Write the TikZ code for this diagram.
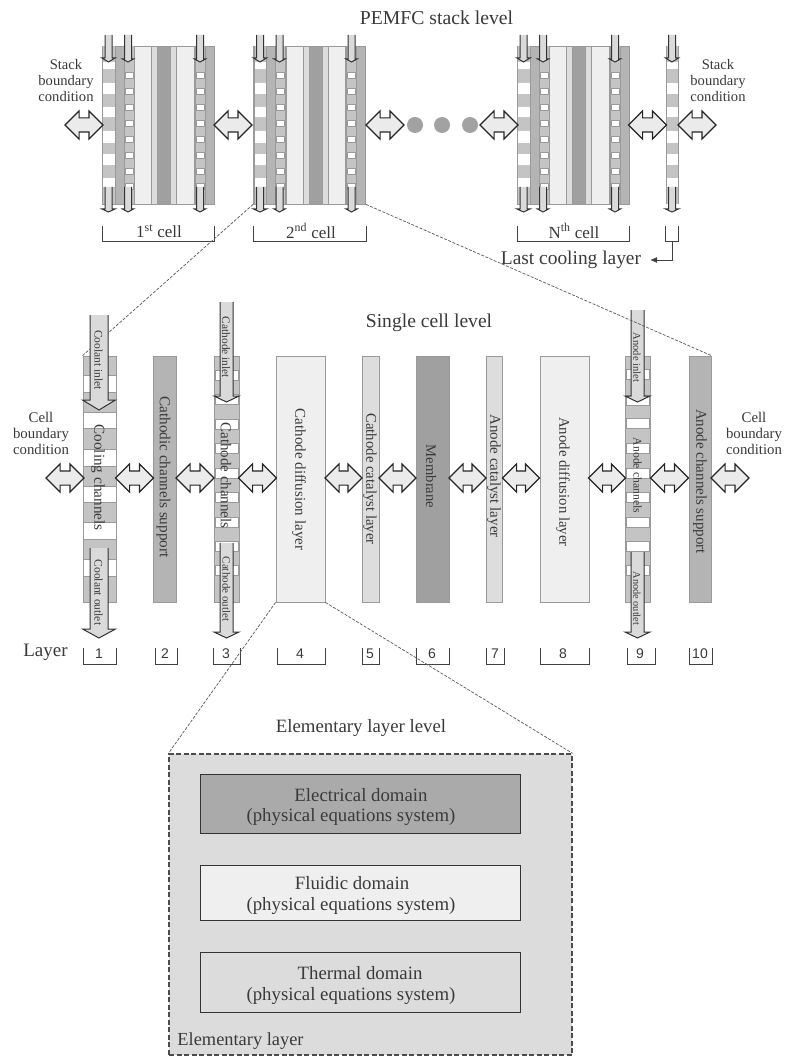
\documentclass[tikz,border=0pt]{standalone}
\usepackage{fontspec}
\setmainfont{Liberation Serif}
\setsansfont{Liberation Sans}
\usetikzlibrary{shapes.arrows,arrows.meta}
\definecolor{ink}{HTML}{3A3A3A}
\definecolor{edgeg}{HTML}{9A9A9A}
\definecolor{supp}{HTML}{B4B4B4}
\definecolor{coolg}{HTML}{C4C4C4}
\definecolor{memb}{HTML}{A0A0A0}
\definecolor{diffg}{HTML}{EFEFEF}
\definecolor{catg}{HTML}{DDDDDD}
\definecolor{flowg}{HTML}{DADADA}
\definecolor{elemg}{HTML}{DCDCDC}
\definecolor{elecg}{HTML}{AAAAAA}
\definecolor{arrg}{HTML}{EBEBEB}
\tikzset{
  txt/.style={inner sep=0pt,text=ink,font=\fontsize{#1}{16}\selectfont,align=center},
  vtxt/.style={inner sep=0pt,text=ink,rotate=-90,font=\fontsize{#1}{16}\selectfont},
  lay/.style={draw=edgeg,line width=0.8pt,inner sep=0pt},
  dbl/.style={double arrow,draw=black!85,line width=1.1pt,fill=arrg,inner xsep=0pt,inner ysep=6.5pt,
     double arrow head extend=7pt},
  guide/.style={draw=black!65,line width=0.7pt,dash pattern=on 3pt off 1.5pt},
  brk/.style={draw=black!75,line width=1pt},
  dombox/.style={draw=black!80,line width=1pt,inner sep=0pt,minimum width=320pt},
  flowline/.style={draw=black!80,line width=1pt,line join=miter}
}
% rectangle node by edges: name, x0, x1, y0, y1, fill
\newcommand{\boxat}[6]{%
  \pgfmathsetmacro{\bw}{#3-#2}\pgfmathsetmacro{\bh}{#5-#4}%
  \pgfmathsetmacro{\bx}{(#2+#3)/2}\pgfmathsetmacro{\by}{(#4+#5)/2}%
  \node[lay,fill=#6,minimum width=\bw pt,minimum height=\bh pt] (#1) at (\bx,\by) {};}
% flow arrow: x, top, wing y, tip, half shaft, half head
\newcommand{\flowar}[6]{%
  \fill[flowg] (#1-#5,#2)--(#1-#5,#3)--(#1-#6,#3)--(#1,#4)--(#1+#6,#3)--(#1+#5,#3)--(#1+#5,#2)--cycle;
  \draw[flowline] (#1-#5,#2)--(#1-#5,#3)--(#1-#6,#3)--(#1,#4)--(#1+#6,#3)--(#1+#5,#3)--(#1+#5,#2);}
\newcommand{\brkt}[4]{\draw[brk] (#1,#3)--(#1,#4)--(#2,#4)--(#2,#3);}
\newcommand{\coolstrip}{%
  \fill[coolg] (102.5,46)rectangle(115,204);
  \foreach \a/\b in {62/69,83/94,107/117,131/143,154/165,178/187}{\fill[white] (102.5,\a) rectangle (115,\b);}
  \draw[edgeg,line width=.5pt] (102.5,46)--(102.5,204) (115,46)--(115,204);}
\newcommand{\holes}[3]{%
  \fill[coolg] (#1,46)rectangle(#3,204);
  \foreach \a in {72,88,104,120,136,152,168,183}{\fill[white,draw=edgeg,line width=.4pt] (#2,\a) rectangle ++(8,6);}
  \draw[edgeg,line width=.5pt] (#1,46)--(#1,204) (#3,46)--(#3,204);}
\begin{document}
\begin{tikzpicture}[x=1pt,y=-1pt]
\useasboundingbox (0,0) rectangle (784,1059);
\fill[white] (0,0) rectangle (784,1059);

% ---- stack level
\node[txt=19.7] (title1) at (436.5,18) {PEMFC stack level};
\foreach \off/\nm in {0/cellA,151.5/cellB,415/cellN}{
\begin{scope}[xshift=\off pt]
  \node[lay,fill=supp,minimum width=112pt,minimum height=158pt] (\nm) at (158,125) {};
  \coolstrip
  \holes{124}{125}{134}
  \holes{195}{196}{205}
  \fill[diffg,draw=edgeg,line width=.4pt] (134.5,46) rectangle (151.5,204);
  \fill[catg,draw=edgeg,line width=.4pt] (151.5,46) rectangle (157.5,204);
  \fill[memb,draw=edgeg,line width=.4pt] (157.5,46) rectangle (170.5,204);
  \fill[catg,draw=edgeg,line width=.4pt] (170.5,46) rectangle (176.5,204);
  \fill[diffg,draw=edgeg,line width=.4pt] (176.5,46) rectangle (194,204);
  \flowar{108.5}{35}{58}{62}{3.5}{6.5}
  \flowar{128}{35}{59}{62}{3.5}{5.5}
  \flowar{200}{35}{59}{62}{3.5}{5.5}
  \flowar{108.5}{187}{209}{212}{3.5}{6.5}
  \flowar{128}{187}{209}{212}{3.5}{5.5}
  \flowar{200}{187}{209}{212}{3.5}{5.5}
\end{scope}}
\begin{scope}[xshift=563.5pt]
  \coolstrip
  \flowar{108.5}{35}{58}{62}{3.5}{6.5}
  \flowar{108.5}{187}{209}{212}{3.5}{6.5}
\end{scope}
\node[dbl,minimum height=38pt] (sa0) at (84,125) {};
\node[dbl,minimum height=38pt] (sa1) at (233,125) {};
\node[dbl,minimum height=38pt] (sa2) at (385,125) {};
\foreach \x/\n in {415/d1,442/d2,470/d3}{\node[circle,fill=supp!90!black,inner sep=0pt,minimum size=16pt] (\n) at (\x,125) {};}
\node[dbl,minimum height=38pt] (sa3) at (499,125) {};
\node[dbl,minimum height=38pt] (sa4) at (647.5,125) {};
\node[dbl,minimum height=38pt] (sa5) at (697,125) {};
\node[txt=14.6] (sbl) at (66,80.5) {Stack\\boundary\\condition};
\node[txt=14.6] (sbr) at (718,80.5) {Stack\\boundary\\condition};
\brkt{102}{214}{226}{242}
\brkt{253.5}{366}{226}{242}
\brkt{517}{629}{226}{242}
\brkt{665}{678}{226}{242}
\node[txt=17] (c1) at (159,231) {1\textsuperscript{st} cell};
\node[txt=17] (c2) at (311,231) {2\textsuperscript{nd} cell};
\node[txt=17] (c3) at (574,231) {N\textsuperscript{th} cell};
\node[txt=19.4] (lcl) at (571,260) {Last cooling layer};
\coordinate (lcb) at (672.5,242);
\coordinate (lca) at (650,260);
\draw[brk,-{Latex[length=7pt,width=6pt]}] (lcb) |- (lca);

% ---- single cell level
\node[txt=19.6] (title2) at (429,323) {Single cell level};
\boxat{L1}{83}{116}{356}{602}{coolg}
\draw[guide] (cellB.south west) -- (L1.north west);
\foreach \a/\b in {375/392,412/428,449/466,486/502,522/539,559/576}{\fill[white,draw=edgeg,line width=.4pt] (83,\a) rectangle (116,\b);}
\boxat{L2}{153}{176}{356}{602}{supp}
\boxat{L3}{214}{239}{356}{602}{coolg}
\foreach \a in {370,394.5,419,443.5,468,492.5,517,541.5,565.5}{\fill[white,draw=edgeg,line width=.4pt] (215,\a) rectangle (238,\a+10);}
\boxat{L4}{276}{325}{356}{602}{diffg}
\boxat{L5}{362}{379}{356}{602}{catg}
\boxat{L6}{416}{449}{356}{602}{memb}
\boxat{L7}{486}{502.5}{356}{602}{catg}
\boxat{L8}{540}{589}{356}{602}{diffg}
\boxat{L9}{625}{650}{356}{602}{coolg}
\foreach \a in {369.5,395,418.5,443,468,492,517,541,565}{\fill[white,draw=edgeg,line width=.4pt] (626,\a) rectangle (649,\a+10);}
\boxat{L10}{689}{711}{356}{602}{supp}

\flowar{99}{315}{400}{410}{9}{16.5}
\flowar{99}{548}{629}{638}{9}{16.5}
\flowar{226.5}{302}{396}{402}{6.5}{12.5}
\flowar{226.5}{543}{632}{638}{6.5}{12.5}
\flowar{637.5}{310}{396}{402}{6.5}{12.5}
\flowar{637.5}{552}{632}{638}{6.5}{12.5}
\draw[guide] (cellB.south east) -- (L10.north east);

\node[dbl,minimum height=38pt] (a0) at (65,478) {};
\node[dbl,minimum height=38pt] (a1) at (134.5,478) {};
\node[dbl,minimum height=38pt] (a2) at (195,478) {};
\node[dbl,minimum height=38pt] (a3) at (257.5,478) {};
\node[dbl,minimum height=37pt] (a4) at (343.5,478) {};
\node[dbl,minimum height=37pt] (a5) at (397.5,478) {};
\node[dbl,minimum height=37pt] (a6) at (467.5,478) {};
\node[dbl,minimum height=37pt] (a7) at (521,478) {};
\node[dbl,minimum height=37pt] (a8) at (607,478) {};
\node[dbl,minimum height=38pt] (a9) at (669.5,478) {};
\node[dbl,minimum height=38pt] (a10) at (730,478) {};

\node[vtxt=11.5] (t1) at (98.5,360) {Coolant inlet};
\node[vtxt=11.5] (t2) at (98.5,592.5) {Coolant outlet};
\node[vtxt=15.2] (t3) at (98,477.5) {Cooling channels};
\node[vtxt=15.2] (t4) at (163.5,477) {Cathodic channels support};
\node[vtxt=11.4] (t5) at (226,347.5) {Cathode inlet};
\node[vtxt=11] (t6) at (226.5,589) {Cathode outlet};
\node[vtxt=15] (t7) at (226,475.5) {Cathode channels};
\node[vtxt=15] (t8) at (299,479.5) {Cathode diffusion layer};
\node[vtxt=14.8] (t9) at (370,479) {Cathode catalyst layer};
\node[vtxt=14.6] (t10) at (431,476.5) {Membrane};
\node[vtxt=15] (t11) at (494,476) {Anode catalyst layer};
\node[vtxt=14.8] (t12) at (563,482) {Anode diffusion layer};
\node[vtxt=10.5] (t13) at (637,357.5) {Anode inlet};
\node[vtxt=10.3] (t14) at (637,598.5) {Anode outlet};
\node[vtxt=11.7] (t15) at (637.5,475.5) {Anode channels};
\node[vtxt=15] (t16) at (700,481.5) {Anode channels support};
\node[txt=14.8] (cbl) at (41,433) {Cell\\boundary\\condition};
\node[txt=14.8] (cbr) at (754,433) {Cell\\boundary\\condition};

% ---- layer index
\node[txt=19] (lyr) at (45.5,652) {Layer};
\foreach \a/\b/\c/\n in {83/116/99/1,155/177/165/2,213/240/226/3,277/325/300/4,362/379/370/5,416/449/432/6,486/504/495/7,540/589/563/8,627/655/640/9,689/712/700/10}{
  \brkt{\a}{\b}{648}{664}
  \node[inner sep=0pt,text=ink,font=\sffamily\fontsize{14}{16}\selectfont] (n\n) at (\c,654) {\n};
}

% ---- elementary level
\node[txt=18.8] (title3) at (361,728) {Elementary layer level};
\node[draw=black!70,line width=1.2pt,dash pattern=on 5pt off 2.5pt,fill=elemg,inner sep=0pt,minimum width=403pt,minimum height=301pt] (elem) at (370.5,904.5) {};
\draw[guide] (L4.south west) -- (elem.north west);
\draw[guide] (L4.south east) -- (elem.north east);
\node[dombox,fill=elecg,minimum height=59pt] (dA) at (360,803.5) {};
\node[dombox,fill=diffg,minimum height=55pt] (dB) at (360,892.5) {};
\node[dombox,fill=elemg,minimum height=60pt] (dC) at (360,982) {};
\node[txt=18.8] (e1) at (361,795) {Electrical domain};
\node[txt=18.8] (e2) at (351,817) {(physical equations system)};
\node[txt=18.8] (f1) at (352,883) {Fluidic domain};
\node[txt=18.8] (f2) at (351,906) {(physical equations system)};
\node[txt=18.8] (h1) at (360,973) {Thermal domain};
\node[txt=18.8] (h2) at (351,996) {(physical equations system)};
\node[txt=18.4] (el) at (240.5,1041) {Elementary layer};
\end{tikzpicture}
\end{document}
